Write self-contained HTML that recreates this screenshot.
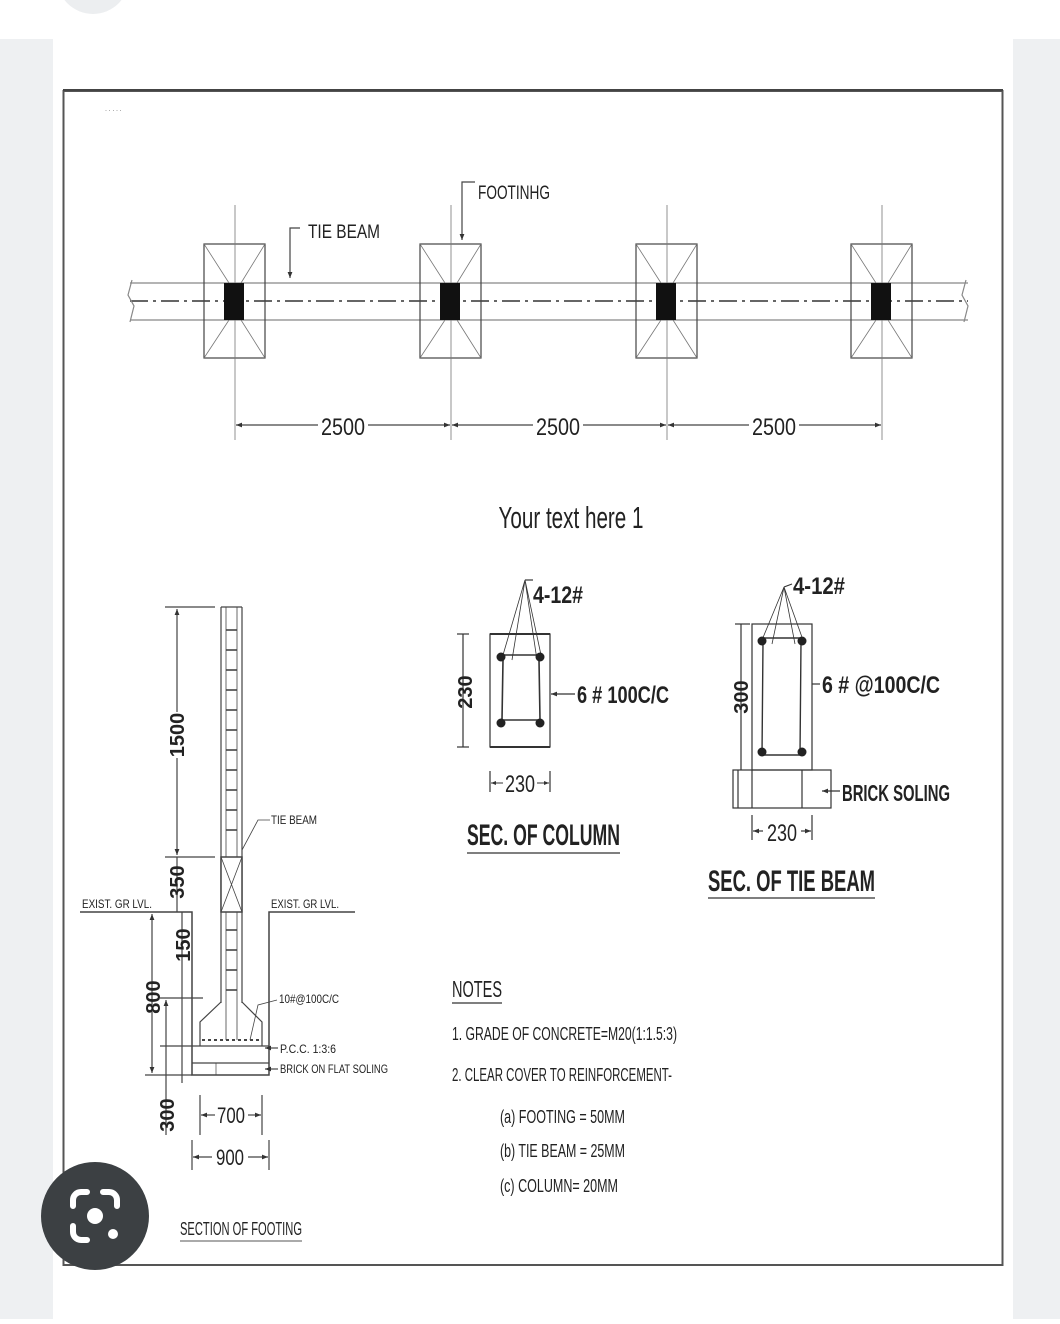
<!DOCTYPE html>
<html><head><meta charset="utf-8"><style>
html,body{margin:0;padding:0;background:#fff;}
svg{display:block;}
text{font-family:"Liberation Sans Narrow","Liberation Sans",sans-serif;fill:#222;}
</style></head><body>
<svg width="1060" height="1324" viewBox="0 0 1060 1324" xmlns="http://www.w3.org/2000/svg">
<defs>
<marker id="a" viewBox="0 0 10 10" refX="10" refY="5" markerWidth="7" markerHeight="5" orient="auto-start-reverse"><path d="M0,1 L10,5 L0,9z" fill="#333"/></marker>
</defs>
<rect width="1060" height="1324" fill="#fff"/>
<circle cx="93" cy="-22" r="36" fill="#eceef0"/>
<rect x="0" y="39" width="53" height="1280" fill="#eef0f2"/>
<rect x="1013" y="39" width="47" height="1280" fill="#eef0f2"/>
<rect x="63.5" y="91" width="939" height="1174" fill="none" stroke="#555" stroke-width="2"/>
<line x1="63" y1="90" x2="1003" y2="90" stroke="#444" stroke-width="2"/>
<text x="105" y="112" font-size="6" fill="#999">· · · · ·</text>

<g stroke="#444" stroke-width="1.2" fill="none">
<line x1="130" y1="283" x2="968" y2="283" stroke="#888"/>
<line x1="130" y1="320" x2="968" y2="320" stroke="#888"/>
<line x1="130" y1="301" x2="968" y2="301" stroke-dasharray="18,5,3,5" stroke="#333" stroke-width="1.6"/>
<path d="M132,280 L128,295 L134,306 L130,322" stroke="#888"/>
<path d="M966,280 L962,295 L968,306 L964,322" stroke="#888"/>
<g id="f">
<rect x="204" y="244" width="61" height="114"/>
<line x1="235" y1="205" x2="235" y2="440" stroke="#777" stroke-width="0.8"/>
<path d="M204,244 L229,283 M265,244 L241,283 M204,358 L229,320 M265,358 L241,320" stroke="#777" stroke-width="0.8"/>
<rect x="224" y="283" width="20" height="37" fill="#111" stroke="none"/>
</g>
<use href="#f" x="216"/>
<use href="#f" x="432"/>
<use href="#f" x="647"/>
<line x1="236" y1="425" x2="450" y2="425" marker-start="url(#a)" marker-end="url(#a)"/>
<line x1="452" y1="425" x2="666" y2="425" marker-start="url(#a)" marker-end="url(#a)"/>
<line x1="668" y1="425" x2="881" y2="425" marker-start="url(#a)" marker-end="url(#a)"/>
<path d="M300,228 L290,228 L290,278" marker-end="url(#a)"/>
<path d="M475,182 L462,182 L462,240" marker-end="url(#a)"/>
</g>
<g font-size="24" text-anchor="middle">
<rect x="318" y="412" width="50" height="24" fill="#fff"/><text x="343" y="435" textLength="44" lengthAdjust="spacingAndGlyphs">2500</text>
<rect x="533" y="412" width="50" height="24" fill="#fff"/><text x="558" y="435" textLength="44" lengthAdjust="spacingAndGlyphs">2500</text>
<rect x="749" y="412" width="50" height="24" fill="#fff"/><text x="774" y="435" textLength="44" lengthAdjust="spacingAndGlyphs">2500</text>
</g>
<text x="308" y="238" font-size="19" textLength="72" lengthAdjust="spacingAndGlyphs" fill="#555">TIE BEAM</text>
<text x="478" y="199" font-size="19" textLength="72" lengthAdjust="spacingAndGlyphs" fill="#555">FOOTINHG</text>
<text x="571" y="528" font-size="31" text-anchor="middle" textLength="145" lengthAdjust="spacingAndGlyphs">Your text here 1</text>

<!-- column section -->
<g stroke="#333" stroke-width="1.2" fill="none">
<rect x="490" y="634" width="60" height="113"/>
<line x1="490" y1="634" x2="550" y2="634" stroke-width="2"/>
<line x1="490" y1="747" x2="550" y2="747" stroke-width="2"/>
<path d="M503,655 L539,655 M503,660 L502,720 L540,720 L539,660" stroke-width="1.6"/>
<path d="M525,580 L503,655 M525,580 L512,660 M525,580 L537,660 M525,580 L541,655" stroke-width="0.8"/>
<line x1="463" y1="634" x2="463" y2="747"/><line x1="457" y1="634" x2="469" y2="634"/><line x1="457" y1="747" x2="469" y2="747"/>
<line x1="490" y1="771" x2="490" y2="792"/><line x1="550" y1="771" x2="550" y2="792"/>
<line x1="575" y1="694" x2="551" y2="694" marker-end="url(#a)"/>
<line x1="525" y1="580" x2="533" y2="580"/>
</g>
<g fill="#222"><circle cx="501" cy="657" r="4.5"/><circle cx="540" cy="657" r="4.5"/><circle cx="501" cy="723" r="4.5"/><circle cx="540" cy="723" r="4.5"/></g>
<text x="533" y="603" font-size="24" font-weight="bold" textLength="50" lengthAdjust="spacingAndGlyphs">4-12#</text>
<text x="577" y="703" font-size="24" font-weight="bold" textLength="92" lengthAdjust="spacingAndGlyphs">6 # 100C/C</text>
<text transform="translate(472,692) rotate(-90)" font-size="20" font-weight="bold" text-anchor="middle">230</text>
<text x="520" y="792" font-size="24" text-anchor="middle" textLength="30" lengthAdjust="spacingAndGlyphs">230</text>
<line x1="491" y1="783" x2="503" y2="783" stroke="#333" marker-start="url(#a)"/>
<line x1="537" y1="783" x2="549" y2="783" stroke="#333" marker-end="url(#a)"/>
<text x="467" y="845" font-size="30" font-weight="bold" textLength="153" lengthAdjust="spacingAndGlyphs">SEC. OF COLUMN</text>
<line x1="467" y1="853" x2="620" y2="853" stroke="#555" stroke-width="1.5"/>

<!-- tie beam section -->
<g stroke="#333" stroke-width="1.2" fill="none">
<rect x="752" y="624" width="60" height="146"/>
<rect x="733" y="770" width="98" height="38"/>
<line x1="738" y1="770" x2="738" y2="808"/><line x1="752" y1="770" x2="752" y2="808"/><line x1="802" y1="770" x2="802" y2="808"/>
<path d="M764,638 L800,638 M763,642 L762,755 L800,755 L801,642" stroke-width="1.4"/>
<path d="M784,587 L762,640 M784,587 L772,644 M784,587 L795,644 M784,587 L803,640" stroke-width="0.8"/>
<path d="M784,587 L792,584"/>
<line x1="741" y1="624" x2="741" y2="770"/><line x1="735" y1="624" x2="750" y2="624"/>
<line x1="820" y1="684" x2="812" y2="684"/>
<line x1="840" y1="791" x2="822" y2="791" marker-end="url(#a)"/>
<line x1="752" y1="815" x2="752" y2="840"/><line x1="812" y1="815" x2="812" y2="840"/>
<line x1="753" y1="831" x2="763" y2="831" marker-start="url(#a)"/>
<line x1="801" y1="831" x2="811" y2="831" marker-end="url(#a)"/>
</g>
<g fill="#222"><circle cx="762" cy="641" r="4.5"/><circle cx="802" cy="641" r="4.5"/><circle cx="762" cy="752" r="4.5"/><circle cx="802" cy="752" r="4.5"/></g>
<text x="793" y="594" font-size="24" font-weight="bold" textLength="52" lengthAdjust="spacingAndGlyphs">4-12#</text>
<text x="822" y="693" font-size="24" font-weight="bold" textLength="118" lengthAdjust="spacingAndGlyphs">6 # @100C/C</text>
<text x="842" y="801" font-size="23" font-weight="bold" textLength="108" lengthAdjust="spacingAndGlyphs">BRICK SOLING</text>
<text transform="translate(748,697) rotate(-90)" font-size="20" font-weight="bold" text-anchor="middle">300</text>
<text x="782" y="841" font-size="24" text-anchor="middle" textLength="30" lengthAdjust="spacingAndGlyphs">230</text>
<text x="708" y="891" font-size="30" font-weight="bold" textLength="167" lengthAdjust="spacingAndGlyphs">SEC. OF TIE BEAM</text>
<line x1="708" y1="898" x2="875" y2="898" stroke="#555" stroke-width="1.5"/>

<!-- footing section -->
<g stroke="#444" stroke-width="1.2" fill="none">
<line x1="221" y1="607" x2="221" y2="1003"/><line x1="242" y1="607" x2="242" y2="1003"/>
<line x1="226" y1="607" x2="226" y2="1040" stroke-width="0.8"/><line x1="237" y1="607" x2="237" y2="1040" stroke-width="0.8"/>
<line x1="221" y1="607" x2="242" y2="607"/>
<g stroke-width="1.6">
<line x1="226" y1="630" x2="237" y2="630"/><line x1="226" y1="650" x2="237" y2="650"/><line x1="226" y1="670" x2="237" y2="670"/><line x1="226" y1="690" x2="237" y2="690"/><line x1="226" y1="710" x2="237" y2="710"/><line x1="226" y1="730" x2="237" y2="730"/><line x1="226" y1="750" x2="237" y2="750"/><line x1="226" y1="770" x2="237" y2="770"/><line x1="226" y1="790" x2="237" y2="790"/><line x1="226" y1="810" x2="237" y2="810"/><line x1="226" y1="830" x2="237" y2="830"/><line x1="226" y1="930" x2="237" y2="930"/><line x1="226" y1="950" x2="237" y2="950"/><line x1="226" y1="970" x2="237" y2="970"/><line x1="226" y1="990" x2="237" y2="990"/>
</g>
<rect x="221" y="857" width="21" height="55" fill="#fff" stroke-width="1.5"/>
<path d="M221,857 L242,912 M242,857 L221,912" stroke-width="0.8"/>
<path d="M242,850 L258,820 L270,820" stroke-width="0.8"/>
<path d="M80,912 L192,912 L192,1075 L269,1075 L269,912 L355,912" stroke-width="1.5"/>
<path d="M221,1002 L200,1022 L200,1046 M242,1002 L262,1022 L262,1046"/>
<line x1="192" y1="1046" x2="269" y2="1046"/><line x1="192" y1="1063" x2="269" y2="1063"/>
<line x1="216" y1="1063" x2="216" y2="1075" stroke-width="0.7"/>
<line x1="202" y1="1040" x2="260" y2="1040" stroke-dasharray="3,3" stroke-width="2"/>
<path d="M250,1040 L258,1005 L277,1000" stroke-width="0.8"/>
<line x1="278" y1="1048" x2="265" y2="1048" marker-end="url(#a)"/>
<line x1="278" y1="1069" x2="265" y2="1069" marker-end="url(#a)"/>
<line x1="165" y1="607" x2="215" y2="607"/><line x1="165" y1="857" x2="215" y2="857"/>
<line x1="177" y1="609" x2="177" y2="855" marker-start="url(#a)" marker-end="url(#a)"/>
<line x1="177" y1="857" x2="177" y2="912"/>
<line x1="182" y1="912" x2="182" y2="1083"/>
<line x1="152" y1="914" x2="152" y2="1073" marker-start="url(#a)" marker-end="url(#a)"/>
<line x1="145" y1="1075" x2="192" y2="1075"/>
<line x1="160" y1="998" x2="203" y2="998"/>
<line x1="160" y1="1046" x2="192" y2="1046"/>
<line x1="166" y1="1000" x2="166" y2="1135" marker-start="url(#a)"/>
<line x1="200" y1="1095" x2="200" y2="1135"/><line x1="262" y1="1095" x2="262" y2="1135"/>
<line x1="192" y1="1140" x2="192" y2="1170"/><line x1="269" y1="1140" x2="269" y2="1170"/>
<line x1="201" y1="1115" x2="215" y2="1115" marker-start="url(#a)"/>
<line x1="248" y1="1115" x2="261" y2="1115" marker-end="url(#a)"/>
<line x1="193" y1="1157" x2="212" y2="1157" marker-start="url(#a)"/>
<line x1="248" y1="1157" x2="268" y2="1157" marker-end="url(#a)"/>
</g>
<g font-size="20" font-weight="bold" text-anchor="middle">
<rect x="168" y="712" width="18" height="46" fill="#fff"/>
<text transform="translate(184,735) rotate(-90)">1500</text>
<text transform="translate(184,882) rotate(-90)">350</text>
<text transform="translate(190,945) rotate(-90)">150</text>
<text transform="translate(160,997) rotate(-90)">800</text>
<text transform="translate(174,1115) rotate(-90)">300</text>
</g>
<text x="231" y="1123" font-size="22" text-anchor="middle" textLength="28" lengthAdjust="spacingAndGlyphs">700</text>
<text x="230" y="1165" font-size="22" text-anchor="middle" textLength="28" lengthAdjust="spacingAndGlyphs">900</text>
<g font-size="12" fill="#444">
<text x="82" y="908" textLength="70" lengthAdjust="spacingAndGlyphs">EXIST. GR LVL.</text>
<text x="271" y="908" textLength="68" lengthAdjust="spacingAndGlyphs">EXIST. GR LVL.</text>
<text x="271" y="824" textLength="46" lengthAdjust="spacingAndGlyphs">TIE BEAM</text>
<text x="279" y="1003" textLength="60" lengthAdjust="spacingAndGlyphs">10#@100C/C</text>
<text x="280" y="1053" textLength="56" lengthAdjust="spacingAndGlyphs">P.C.C. 1:3:6</text>
<text x="280" y="1073" textLength="108" lengthAdjust="spacingAndGlyphs">BRICK ON FLAT SOLING</text>
</g>
<text x="180" y="1235" font-size="18" textLength="122" lengthAdjust="spacingAndGlyphs" fill="#333">SECTION OF FOOTING</text>
<line x1="180" y1="1241" x2="302" y2="1241" stroke="#555"/>

<g fill="#333">
<text x="452" y="997" font-size="23" textLength="50" lengthAdjust="spacingAndGlyphs">NOTES</text>
<line x1="452" y1="1003" x2="502" y2="1003" stroke="#555" stroke-width="1.5"/>
<text x="452" y="1040" font-size="18" textLength="225" lengthAdjust="spacingAndGlyphs">1. GRADE OF CONCRETE=M20(1:1.5:3)</text>
<text x="452" y="1081" font-size="18" textLength="220" lengthAdjust="spacingAndGlyphs">2. CLEAR COVER TO REINFORCEMENT-</text>
<text x="500" y="1123" font-size="18" textLength="125" lengthAdjust="spacingAndGlyphs">(a) FOOTING = 50MM</text>
<text x="500" y="1157" font-size="18" textLength="125" lengthAdjust="spacingAndGlyphs">(b) TIE BEAM = 25MM</text>
<text x="500" y="1192" font-size="18" textLength="118" lengthAdjust="spacingAndGlyphs">(c) COLUMN= 20MM</text>
</g>

<circle cx="95" cy="1216" r="54" fill="#3c4043"/>
<path d="M73,1206 v-6 a8,8 0 0 1 8,-8 h6 M103,1192 h6 a8,8 0 0 1 8,8 v6 M73,1226 v6 a8,8 0 0 0 8,8 h6" stroke="#fff" stroke-width="6" fill="none" stroke-linecap="round"/>
<circle cx="95" cy="1216" r="8" fill="#fff"/>
<circle cx="113" cy="1234" r="5" fill="#fff"/>
</svg>
</body></html>
